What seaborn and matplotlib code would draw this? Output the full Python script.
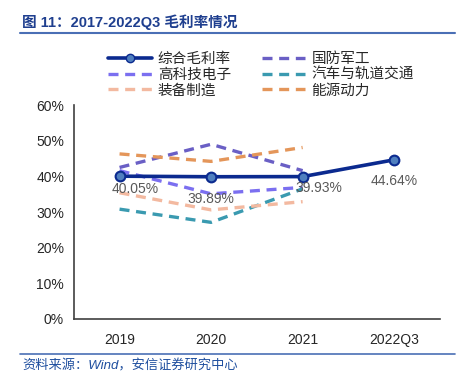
import pandas as pd
import seaborn as sns
import matplotlib.pyplot as plt
from matplotlib.lines import Line2D

years = ['2019', '2020', '2021', '2022Q3']
total = [40.05, 39.89, 39.93, 44.64]
defense = [42.5, 49.0, 41.6]
hitech = [41.6, 35.1, 36.9]
auto_rail = [30.8, 27.1, 36.5]
equipment = [35.4, 30.6, 32.9]
energy = [46.3, 44.2, 48.1]

sectors = {
    '国防军工': (defense, '#6a5fc5'),
    '高科技电子': (hitech, '#7b6ff0'),
    '汽车与轨道交通': (auto_rail, '#3a9ab0'),
    '装备制造': (equipment, '#f3b9a0'),
    '能源动力': (energy, '#e4965a'),
}

sns.set_style('white')
plt.rcParams['font.family'] = ['Liberation Sans', 'Noto Sans CJK SC']

fig = plt.figure(figsize=(4.7, 3.82), dpi=100)
ax = fig.add_axes([0.157, 0.165, 0.779, 0.56])

# dashed sector lines
for name, (vals, col) in sectors.items():
    df = pd.DataFrame({'year': years[:3], 'v': vals})
    sns.lineplot(data=df, x='year', y='v', ax=ax, color=col, lw=2.4,
                 linestyle=(0, (3, 2)), sort=False)

main_col = '#0b2a8f'
df_total = pd.DataFrame({'year': years, 'v': total})
sns.lineplot(data=df_total, x='year', y='v', ax=ax, color=main_col, lw=2.6,
             marker='o', markersize=7, markerfacecolor='#4f7fbf',
             markeredgecolor=main_col, markeredgewidth=1.5, sort=False, zorder=5)

# data labels
offsets = [(11, -9), (0, -16), (11.5, -8), (0, -15)]
for i, (v, (dx, dy)) in enumerate(zip(total, offsets)):
    ax.annotate(f'{v:.2f}%', (i, v), xytext=(dx, dy), textcoords='offset points',
                ha='center', va='center', fontsize=10, color='#595959', zorder=6)

ax.set_xlim(-0.5, 3.5)
ax.set_ylim(0, 60)
ax.set_yticks(range(0, 61, 10))
ax.set_yticklabels([f'{t}%' for t in range(0, 61, 10)], fontsize=10)
ax.set_xticks(range(4))
ax.set_xticklabels(years, fontsize=10)
ax.set_xticks([0.5, 1.5, 2.5, 3.5], minor=True)
ax.tick_params(axis='x', which='major', length=0, pad=10)
ax.tick_params(axis='x', which='minor', length=4, direction='in', color='#404040')
ax.tick_params(axis='y', length=4, direction='out', color='#404040', pad=3)
ax.set_xlabel('')
ax.set_ylabel('')
sns.despine(ax=ax)
for s in ['left', 'bottom']:
    ax.spines[s].set_color('#404040')
    ax.spines[s].set_linewidth(1.2)

# legend
order = ['综合毛利率', '高科技电子', '装备制造', '国防军工', '汽车与轨道交通', '能源动力']
handles = []
for name in order:
    if name == '综合毛利率':
        handles.append(Line2D([], [], color=main_col, lw=2.6, marker='o', markersize=6,
                              markerfacecolor='#4f7fbf', markeredgecolor=main_col))
    else:
        handles.append(Line2D([], [], color=sectors[name][1], lw=2.4, linestyle=(0, (3, 2))))
fig.legend(handles, order, ncol=2, loc='upper left', bbox_to_anchor=(0.215, 0.883),
           frameon=False, fontsize=10.5, handlelength=3.0, handletextpad=0.4,
           columnspacing=2.1, labelspacing=0.12, borderpad=0)

# title and source
fig.text(0.047, 0.942, '图 11：2017-2022Q3 毛利率情况', fontsize=10.5, fontweight='bold',
         color='#1f3f8f', va='center')
fig.add_artist(Line2D([0.043, 0.968], [0.913, 0.913], color='#4a6fb5', lw=1.5))
fig.add_artist(Line2D([0.043, 0.968], [0.073, 0.073], color='#4a6fb5', lw=1.2))
fig.text(0.047, 0.043, '资料来源：Wind，安信证券研究中心', fontsize=9.5, style='italic',
         color='#1f4f9f', va='center')

fig.savefig('out.png', dpi=100)
